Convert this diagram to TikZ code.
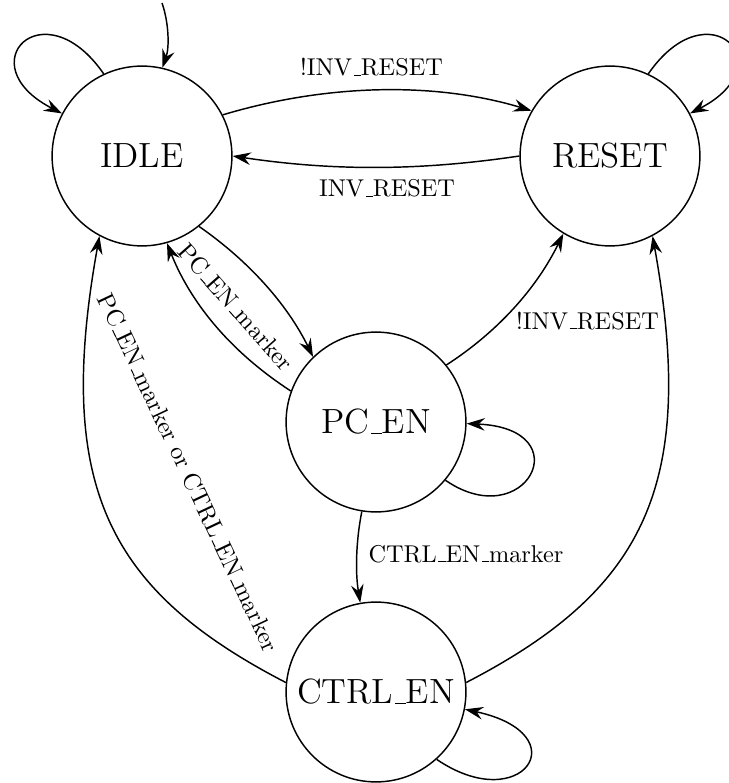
\documentclass[tikz,border=0pt]{standalone}
\usetikzlibrary{arrows.meta}
\newcommand{\us}{\leavevmode\kern.06em\vbox{\hrule width.3em}}
\begin{document}
\begin{tikzpicture}[x=0.41152pt, y=-0.41152pt,
  state/.style={circle, draw, semithick, minimum size=74pt, inner sep=0pt, font=\Large},
  edge/.style={semithick, -{Stealth[length=7.5pt,width=5.2pt,inset=2.6pt]}},
  lbl/.style={inner sep=0pt}]
\useasboundingbox (0,0) rectangle (729,783);
\node[state] (idle) at (142,156) {IDLE};
\node[state] (reset) at (610,156) {RESET};
\node[state] (pcen) at (376,422) {PC\us EN};
\node[state] (ctrlen) at (376,692) {CTRL\us EN};
\coordinate (init) at (162,3);

% initial arrow
\draw[edge] (init) .. controls +(7,20) and +(7,-20) .. (idle.77);
% self loops
\draw[edge] (idle.115) .. controls +(-60,-87) and +(-95,-49) .. (idle.152);
\draw[edge] (reset.65) .. controls +(60,-87) and +(95,-49) .. (reset.28);
\draw[edge] (pcen.-40) .. controls +(80,55) and +(115,5) .. (pcen.-1);
\draw[edge] (ctrlen.-48) .. controls +(85,58) and +(115,25) .. (ctrlen.-11);
% IDLE <-> RESET
\draw[edge] (idle.27) .. controls +(100,-30) and +(-100,-30) .. (reset.150);
\draw[edge] (reset.180) .. controls +(-100,15) and +(100,15) .. (idle.0);
% IDLE <-> PC_EN
\draw[edge] (idle.-51) .. controls +(49,34) and +(-26,-53) .. (pcen.134);
\draw[edge] (pcen.160) .. controls +(-57,-37) and +(25,63) .. (idle.-74);
% PC_EN -> RESET
\draw[edge] (pcen.39) .. controls +(51,-33) and +(-27,55) .. (reset.-121);
% PC_EN -> CTRL_EN
\draw[edge] (pcen.-99) .. controls +(-6,30) and +(-5,-30) .. (ctrlen.100);
% CTRL_EN -> RESET / IDLE
\draw[edge] (ctrlen.6) .. controls +(178,-92) and +(45,250) .. (reset.-62);
\draw[edge] (ctrlen.174) .. controls +(-178,-92) and +(-45,250) .. (idle.-118);

% labels
\node[lbl, anchor=base] (l1) at (371.5,76) {!INV\us RESET};
\node[lbl, anchor=base] (l2) at (387,197) {INV\us RESET};
\node[lbl, anchor=base] (l3) at (587.5,329) {!INV\us RESET};
\node[lbl, anchor=base] (l4) at (466,562) {CTRL\us EN\us marker};
\node[lbl, rotate=-48.5] (l5) at (236,307) {PC\us EN\us marker};
\node[lbl, rotate=-64.7] (l6) at (188.5,472.5) {PC\us EN\us marker or CTRL\us EN\us marker};
\end{tikzpicture}
\end{document}
